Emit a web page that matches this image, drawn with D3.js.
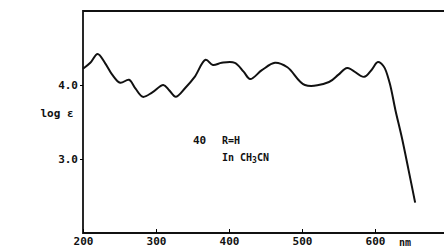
<!DOCTYPE html>
<html>
<head>
<meta charset="utf-8">
<script src="https://cdn.jsdelivr.net/npm/d3@7"></script>
<style>
  body { margin: 0; background: #fff; }
  text { font-family: "DejaVu Sans Mono", monospace; font-weight: bold; fill: #111; }
</style>
</head>
<body>
<div id="container"></div>
<script>
const width = 444;
const height = 247;

// spectrum
const wavelength = [200, 210, 220, 230, 240, 251, 263, 272, 282, 295, 310, 318, 327, 340, 353, 368, 378, 390,
  408, 420, 429, 445, 463, 480, 504, 537, 550, 562, 585, 595, 604, 612, 620, 628, 637, 646, 655];
const logEps = [4.22, 4.30, 4.42, 4.30, 4.14, 4.03, 4.07, 3.95, 3.84, 3.90, 4.00, 3.93, 3.84, 3.96, 4.11, 4.34, 4.27, 4.30,
  4.30, 4.18, 4.08, 4.20, 4.30, 4.24, 4.00, 4.04, 4.14, 4.23, 4.11, 4.20, 4.31, 4.25, 4.03, 3.66, 3.28, 2.85, 2.41];
const xTicks = [200, 300, 400, 500, 600];
const yTicks = [3.0, 4.0];

const data = wavelength.map((w, i) => ({ w: w, v: logEps[i] }));

const plotLeft = 83, plotTop = 11, plotBottom = 233;

const x = d3.scaleLinear().domain([200, 700]).range([plotLeft, plotLeft + 365]);
const y = d3.scaleLinear().domain([2, 5]).range([plotBottom, plotTop]);

const svg = d3.select("#container")
  .append("svg")
  .attr("width", width)
  .attr("height", height);

// frame: left, top and bottom only
svg.append("path")
  .attr("d", `M${width},${plotTop}H${plotLeft}V${plotBottom}H${width}`)
  .attr("fill", "none")
  .attr("stroke", "#111")
  .attr("stroke-width", 1.8);

const xAxis = svg.append("g")
  .attr("transform", `translate(0,${plotBottom})`)
  .call(d3.axisBottom(x).tickValues(xTicks).tickSize(-4).tickPadding(4).tickFormat(d3.format("d")));
xAxis.select(".domain").remove();
xAxis.selectAll("text").style("font-size", "11px");

const yAxis = svg.append("g")
  .attr("transform", `translate(${plotLeft},0)`)
  .call(d3.axisLeft(y).tickValues(yTicks).tickSize(3).tickPadding(2).tickFormat(d3.format(".1f")));
yAxis.select(".domain").remove();
yAxis.selectAll("text").style("font-size", "11px");

svg.append("text")
  .attr("x", 57).attr("y", 117)
  .attr("text-anchor", "middle")
  .style("font-size", "11px")
  .text("log ε");

svg.append("text")
  .attr("x", 405).attr("y", 246)
  .attr("text-anchor", "middle")
  .style("font-size", "10px")
  .text("nm");

// annotation
svg.append("text").attr("x", 193).attr("y", 144).style("font-size", "11px").text("40");
svg.append("text").attr("x", 222).attr("y", 144).style("font-size", "10px").text("R=H");
const sol = svg.append("text").attr("x", 222).attr("y", 161).style("font-size", "10px");
sol.append("tspan").text("In CH");
sol.append("tspan").attr("dy", 2).style("font-size", "8px").text("3");
sol.append("tspan").attr("dy", -2).text("CN");

const line = d3.line()
  .x(d => x(d.w))
  .y(d => y(d.v))
  .curve(d3.curveCatmullRom);

svg.append("path")
  .datum(data)
  .attr("d", line)
  .attr("fill", "none")
  .attr("stroke", "#111")
  .attr("stroke-width", 2);
</script>
</body>
</html>
